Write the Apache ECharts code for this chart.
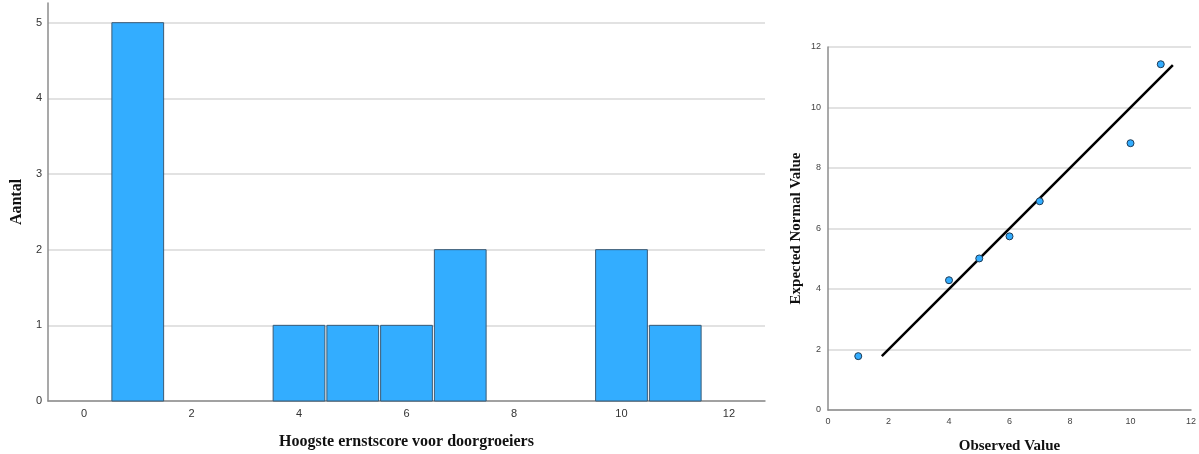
<!DOCTYPE html>
<html><head><meta charset="utf-8">
<script src="https://cdn.jsdelivr.net/npm/echarts@6/dist/echarts.min.js"></script>
<style>html,body{margin:0;padding:0;background:#fff}#c{width:1199px;height:454px}</style>
</head><body><div id="c"></div>
<script>
// Histogram
const binCenters = [1, 4, 5, 6, 7, 10, 11];
const binCounts  = [5, 1, 1, 1, 2, 2, 1];
const histXTicks = [0, 2, 4, 6, 8, 10, 12];
const histYTicks = [0, 1, 2, 3, 4, 5];
// Q-Q plot
const observed = [1, 4, 5, 6, 7, 10, 11];
const expected = [1.78, 4.29, 5.01, 5.74, 6.9, 8.82, 11.43];
const fitLineX = [1.78, 11.4];
const fitLineY = [1.78, 11.4];

const chart = echarts.init(document.getElementById('c'), null, {renderer:'canvas'});
const serif = 'Liberation Serif, Times New Roman, serif';
const gridColor = '#d9d9d9';
const axisColor = '#8c8c8c';

chart.setOption({
  animation:false,
  grid:[
    {left:48, right:434, top:3, bottom:53, outerBoundsMode:'none', containLabel:false},
    {left:828, right:8, top:47, bottom:44, outerBoundsMode:'none', containLabel:false}
  ],
  xAxis:[
    {gridIndex:0, type:'value', min:-0.67, max:12.67,
     name:'Hoogste ernstscore voor doorgroeiers', nameLocation:'middle', nameGap:33,
     nameTextStyle:{fontFamily:serif, fontWeight:'bold', fontSize:16, color:'#111'},
     axisLine:{onZero:false, lineStyle:{color:axisColor, width:1.5}},
     axisTick:{show:false, customValues:histXTicks},
     splitLine:{show:false},
     axisLabel:{customValues:histXTicks, color:'#333', fontSize:11, fontFamily:'Liberation Sans Narrow, Arial Narrow, sans-serif', margin:7}
    },
    {gridIndex:1, type:'value', min:0, max:12, interval:2,
     name:'Observed Value', nameLocation:'middle', nameGap:29,
     nameTextStyle:{fontFamily:serif, fontWeight:'bold', fontSize:15, color:'#111'},
     axisLine:{onZero:false, lineStyle:{color:axisColor, width:1.5}},
     axisTick:{show:false},
     splitLine:{show:false},
     axisLabel:{color:'#444', fontSize:9, fontFamily:'Arial, Liberation Sans, sans-serif', margin:7}
    }
  ],
  yAxis:[
    {gridIndex:0, type:'value', min:0, max:5.26,
     name:'Aantal', nameLocation:'middle', nameGap:21,
     nameTextStyle:{fontFamily:serif, fontWeight:'bold', fontSize:16, color:'#111'},
     axisLine:{show:true, onZero:false, lineStyle:{color:axisColor, width:1.5}},
     axisTick:{show:false, customValues:histYTicks},
     splitLine:{show:true, lineStyle:{color:gridColor, width:1.5}},
     axisLabel:{customValues:histYTicks, color:'#333', fontSize:11, fontFamily:'Liberation Sans Narrow, Arial Narrow, sans-serif', margin:6}
    },
    {gridIndex:1, type:'value', min:0, max:12, interval:2,
     name:'Expected Normal Value', nameLocation:'middle', nameGap:24,
     nameTextStyle:{fontFamily:serif, fontWeight:'bold', fontSize:15, color:'#111'},
     axisLine:{show:true, onZero:false, lineStyle:{color:axisColor, width:1.5}},
     axisTick:{show:false},
     splitLine:{show:true, lineStyle:{color:gridColor, width:1.5}},
     axisLabel:{color:'#444', fontSize:9, fontFamily:'Arial, Liberation Sans, sans-serif', margin:7}
    }
  ],
  series:[
    {type:'custom', xAxisIndex:0, yAxisIndex:0,
     data: binCenters.map((c,i)=>[c, binCounts[i]]),
     renderItem:function(params, api){
       const x = api.value(0), y = api.value(1);
       const p0 = api.coord([x-0.5, y]);
       const p1 = api.coord([x+0.5, 0]);
       return {type:'rect', shape:{x:p0[0]+1, y:p0[1], width:p1[0]-p0[0]-2, height:p1[1]-p0[1]},
         style:{fill:'#33adff', stroke:'#3a5a75', lineWidth:1}};
     }
    },
    {type:'line', xAxisIndex:1, yAxisIndex:1, symbol:'none',
     data: fitLineX.map((x,i)=>[x, fitLineY[i]]),
     lineStyle:{color:'#000', width:2.5}, z:3
    },
    {type:'scatter', xAxisIndex:1, yAxisIndex:1, symbolSize:7,
     data: observed.map((x,i)=>[x, expected[i]]),
     itemStyle:{color:'#33adff', borderColor:'#1d3a55', borderWidth:1, opacity:1}, z:4
    }
  ]
});
</script></body></html>
